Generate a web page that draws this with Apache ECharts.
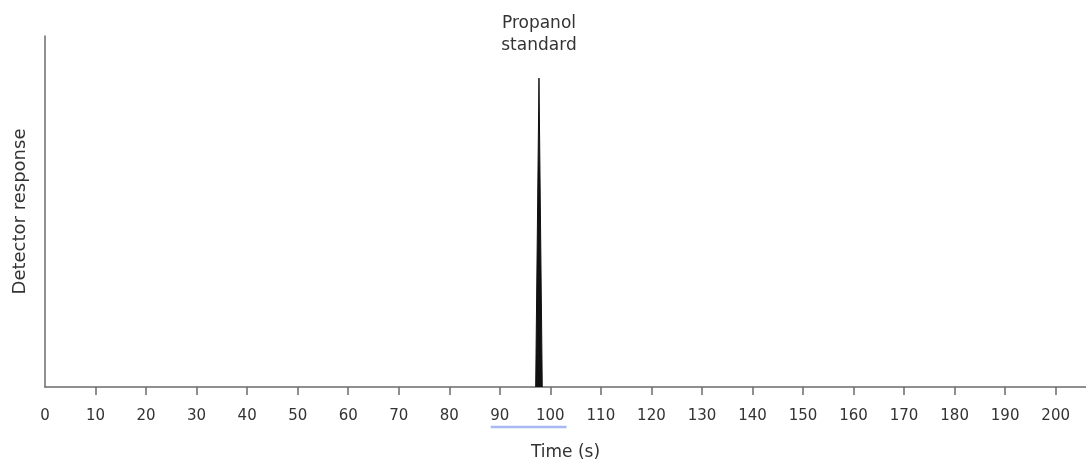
<!DOCTYPE html>
<html lang="en">
<head>
<meta charset="UTF-8">
<title>Propanol standard</title>
<script src="https://cdn.jsdelivr.net/npm/echarts@6/dist/echarts.min.js"></script>
<style>
	html, body { margin: 0; padding: 0; width: 100%; height: 100%; background: #fff; }
	#chart { width: 1086px; height: 463px; }
</style>
</head>
<body>
<div id="chart"></div>
<script>
	// tick labels on the time axis (s)
	var timeTicks = [0, 10, 20, 30, 40, 50, 60, 70, 80, 90, 100, 110, 120, 130, 140, 150, 160, 170, 180, 190, 200];
	// single peak of the propanol standard (time in s, response in % of axis height)
	var peakTime = [97.1, 97.75, 98.4];
	var peakResponse = [0, 88, 0];
	var peakLabel = 'Propanol\nstandard';
	// the light blue underline below the 90 - 100 labels
	var underlineRange = [88.2, 103.2];

	var font = 'DejaVu Sans';
	var myChart = echarts.init(document.getElementById('chart'));

	var peakData = [];
	for (var i = 0; i < peakTime.length; i++) {
		peakData.push([peakTime[i], peakResponse[i]]);
	}

	var options = {
		animation: false,
		grid: { left: 45, right: 0, top: 36, bottom: 76, outerBoundsMode: 'none' },
		xAxis: {
			type: 'value',
			min: 0,
			max: 206,
			name: 'Time (s)',
			nameLocation: 'middle',
			nameGap: 57,
			nameTextStyle: { fontFamily: font, fontSize: 17, color: '#333' },
			axisLine: { show: true, onZero: false, lineStyle: { color: '#6b6b6b', width: 1.5 } },
			axisTick: {
				show: true,
				length: 8,
				customValues: timeTicks.slice(1),
				lineStyle: { color: '#6b6b6b', width: 1.5 }
			},
			axisLabel: {
				customValues: timeTicks,
				margin: 22,
				fontFamily: font,
				fontSize: 15,
				color: '#333'
			},
			splitLine: { show: false }
		},
		yAxis: {
			type: 'value',
			min: 0,
			max: 100,
			name: 'Detector response',
			nameLocation: 'middle',
			nameGap: 16,
			nameTextStyle: { fontFamily: font, fontSize: 18, color: '#333' },
			axisLine: { show: true, lineStyle: { color: '#6b6b6b', width: 1.5 } },
			axisTick: { show: false },
			axisLabel: { show: false },
			splitLine: { show: false }
		},
		series: [{
			type: 'line',
			data: peakData,
			symbol: 'none',
			lineStyle: { color: '#111', width: 1 },
			areaStyle: { color: '#111', opacity: 1 },
			markPoint: {
				symbol: 'circle',
				symbolSize: 0,
				silent: true,
				data: [{ coord: [peakTime[1], peakResponse[1]] }],
				label: {
					show: true,
					position: 'top',
					distance: 22,
					formatter: peakLabel,
					fontFamily: font,
					fontSize: 17,
					lineHeight: 22,
					color: '#333'
				}
			},
			z: 1
		}]
	};
	myChart.setOption(options);

	// place the underline through the axis scale
	var a = myChart.convertToPixel({ gridIndex: 0 }, [underlineRange[0], 0]);
	var b = myChart.convertToPixel({ gridIndex: 0 }, [underlineRange[1], 0]);
	myChart.setOption({
		graphic: [{
			type: 'line',
			shape: { x1: a[0], y1: a[1] + 40, x2: b[0], y2: b[1] + 40 },
			style: { stroke: '#a9baf3', lineWidth: 2.5 }
		}]
	});
</script>
</body>
</html>
